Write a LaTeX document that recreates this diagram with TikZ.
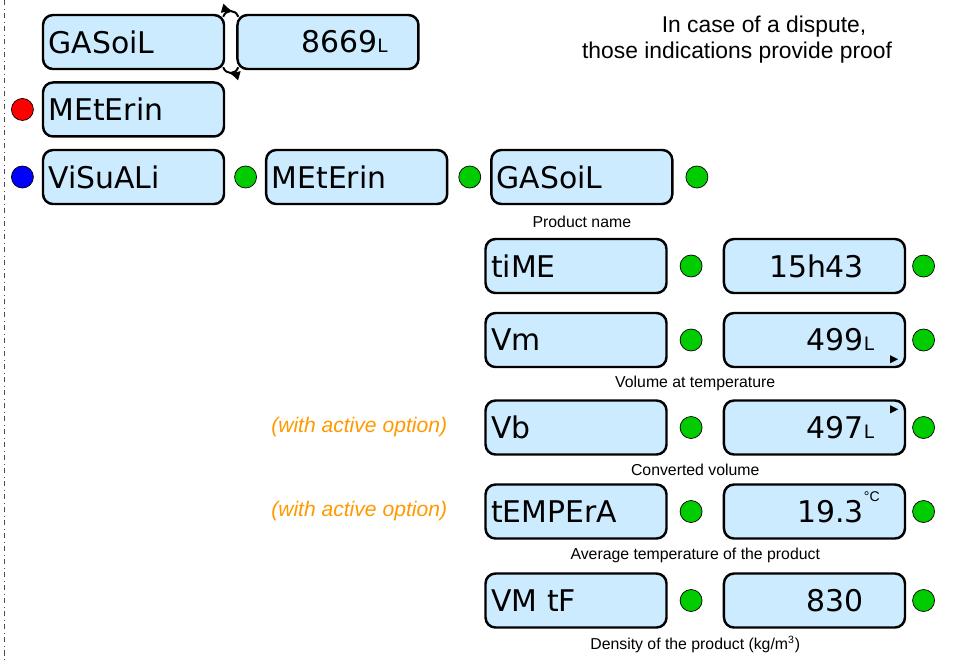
\documentclass[tikz,border=0pt]{standalone}
\usepackage{fontspec}
\setmainfont{Liberation Sans}
\newfontfamily\lcd{DejaVu Sans}
\usetikzlibrary{positioning,calc,arrows.meta,decorations.markings}

\definecolor{lcdblue}{RGB}{204,235,255}
\definecolor{ledgreen}{RGB}{0,204,0}
\definecolor{optorange}{RGB}{255,153,0}

\newcommand\lunit[1]{\rlap{\fontsize{10.5}{10.5}\selectfont #1}}
\newcommand\degc{\rlap{\raisebox{4.2mm}[0pt][0pt]{\normalfont\fontsize{8}{8}\selectfont °C}}}

\begin{document}
\begin{tikzpicture}[x=0.2mm, y=-0.2mm, >=latex, node distance=2.4mm,
    every node/.style={font=\small},
    lbox/.style={draw, line width=1.4pt, rounded corners=2mm, fill=lcdblue, minimum height=10.8mm,
                 inner xsep=1.1mm, text width=34mm, align=left, font=\lcd\fontsize{17}{17}\selectfont},
    vbox/.style={lbox, inner xsep=8.2mm, text width=19.8mm, align=right},
    led/.style={circle, draw, thin, inner sep=0pt, minimum size=4.4mm, fill=#1},
    led/.default=ledgreen,
    note/.style={anchor=base, inner sep=0pt, font=\fontsize{9}{10}\selectfont},
    opt/.style={font=\fontsize{12}{14}\selectfont\itshape, text=optorange},
    midarrow/.style={line width=1.1pt, postaction={decorate},
                     decoration={markings, mark=at position .6 with {\arrow{Latex[length=2.2mm,width=2mm]}}}}]
    \useasboundingbox (0,0) rectangle (953,660);
    \draw[dash dot, thin, gray!60!black] (4,0) -- (4,660);

    % total counter
    \node (gas) [lbox] at (133.5,42) {GASoiL};
    \node (tot) [vbox, right=2.2mm of gas] {8669\lunit{L}};
    \draw[midarrow] ([xshift=-0.4mm,yshift=-0.6mm]gas.north east) to[out=70, in=110, looseness=1.4] ([xshift=0.4mm,yshift=-0.6mm]tot.north west);
    \draw[midarrow] ([xshift=0.4mm,yshift=0.6mm]tot.south west) to[out=-110, in=-70, looseness=1.4] ([xshift=-0.4mm,yshift=0.6mm]gas.south east);

    \node (meter) [lbox, below=2.2mm of gas] {MEtErin};
    \node (red)   [led=red, left=1.6mm of meter] {};

    % menu path
    \node (vis)    [lbox] at (133.5,177) {ViSuALi};
    \node (blue)   [led=blue, left=1.6mm of vis] {};
    \node (g1)     [led, right=1.8mm of vis] {};
    \node (meter2) [lbox, right=1.6mm of g1] {MEtErin};
    \node (g2)     [led, right=2mm of meter2] {};
    \node (prod)   [lbox, right=1.8mm of g2] {GASoiL};
    \node (g3)     [led, right=2.4mm of prod] {};
    \node (cprod)  [note] at ([yshift=-4.4mm]prod.south) {Product name};

    % time
    \node (tm)   [lbox] at (576,266) {tiME};
    \node (tmg)  [led, right=2.4mm of tm] {};
    \node (tmv)  [vbox, right=11mm of tm] {15h43};
    \node (tmvg) [led, right=1.2mm of tmv] {};

    % volume at temperature
    \node (vm)   [lbox] at (576,340) {Vm};
    \node (vmg)  [led, right=2.4mm of vm] {};
    \node (vmv)  [vbox, right=11mm of vm] {499\lunit{L}};
    \node (vmvg) [led, right=1.2mm of vmv] {};
    \fill (vmv.south east) ++(-3.2mm,1mm) -- ++(0,1.6mm) -- ++(1.6mm,-0.8mm) -- cycle;
    \node (cvm)  [note] at ([yshift=-3.9mm]$(vm.south)!.5!(vmv.south)$) {Volume at temperature};

    % converted volume
    \node (vb)   [lbox] at (576,427.5) {Vb};
    \node (vbg)  [led, right=2.4mm of vb] {};
    \node (vbv)  [vbox, right=11mm of vb] {497\lunit{L}};
    \node (vbvg) [led, right=1.2mm of vbv] {};
    \fill (vbv.north east) ++(-3.2mm,-1.2mm) -- ++(0,-1.6mm) -- ++(1.6mm,0.8mm) -- cycle;
    \node (optvb) [opt, left=6.2mm of vb] {(with active option)};
    \node (cvb)  [note] at ([yshift=-3.9mm]$(vb.south)!.5!(vbv.south)$) {Converted volume};

    % temperature
    \node (tp)   [lbox] at (576,511.5) {tEMPErA};
    \node (tpg)  [led, right=2.4mm of tp] {};
    \node (tpv)  [vbox, right=11mm of tp] {19.3\degc};
    \node (tpvg) [led, right=1.2mm of tpv] {};
    \node (opttp) [opt, left=6.2mm of tp] {(with active option)};
    \node (ctp)  [note] at ([yshift=-3.9mm]$(tp.south)!.5!(tpv.south)$) {Average temperature of the product};

    % density
    \node (dn)   [lbox] at (576,600.5) {VM tF};
    \node (dng)  [led, right=2.4mm of dn] {};
    \node (dnv)  [vbox, right=11mm of dn] {830};
    \node (dnvg) [led, right=1.2mm of dnv] {};
    \node (cdn)  [note] at ([yshift=-4.2mm]$(dn.south)!.5!(dnv.south)$) {Density of the product (kg/m\textsuperscript{3})};

    \node (hint1) [font=\fontsize{13}{15}\selectfont] at (764,27) {In case of a dispute,};
    \node (hint2) [font=\fontsize{13}{15}\selectfont] at (737,53) {those indications provide proof};
\end{tikzpicture}
\end{document}
